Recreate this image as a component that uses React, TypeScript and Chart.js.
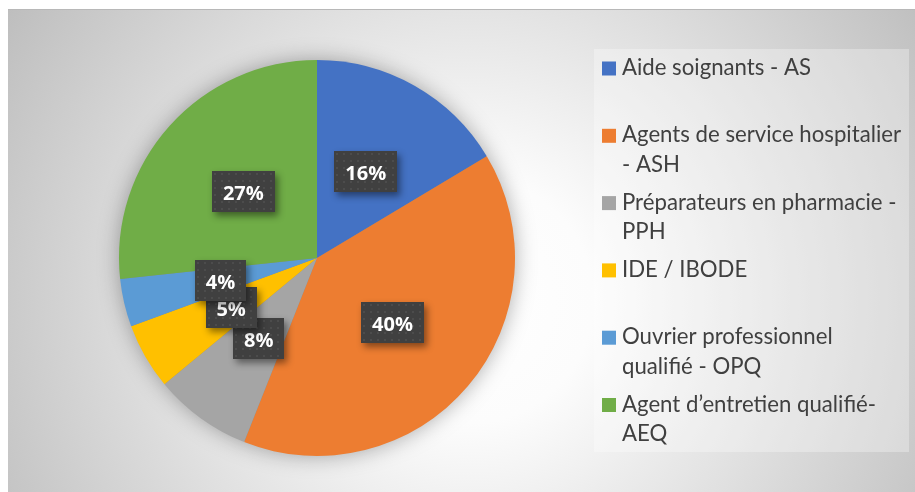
import React, { useEffect, useRef } from "react";
import { Chart, registerables } from "chart.js";

Chart.register(...registerables);

const categories = [
  "Aide soignants - AS",
  "Agents de service hospitalier - ASH",
  "Préparateurs en pharmacie - PPH",
  "IDE / IBODE",
  "Ouvrier professionnel qualifié - OPQ",
  "Agent d’entretien qualifié-AEQ",
];
const shares = [16.4, 39.6, 8.0, 5.4, 3.9, 26.7];
const sliceColors = ["#4472C4", "#ED7D31", "#A5A5A5", "#FFC000", "#5B9BD5", "#70AD47"];

const LEGEND_FONT = "Lato, 'Open Sans', sans-serif";
const LABEL_SIZE = 20;
const LABEL_FONT = `bold ${LABEL_SIZE}px 'Open Sans', sans-serif`;

function wrapText(ctx: CanvasRenderingContext2D, text: string, maxW: number): string[] {
  const tokens = text.split(/(?<=[ \-])/);
  const lines: string[] = [];
  let cur = "";
  for (const t of tokens) {
    const test = cur + t;
    if (cur.trim() !== "" && ctx.measureText(test.trimEnd()).width > maxW) {
      lines.push(cur.trim());
      cur = t.trimStart();
    } else {
      cur = test;
    }
  }
  if (cur.trim() !== "") lines.push(cur.trim());
  return lines;
}

const backgroundPlugin = {
  id: "bgFrame",
  beforeDraw(chart: any) {
    const { ctx, width, height } = chart;
    ctx.save();
    ctx.fillStyle = "#ffffff";
    ctx.fillRect(0, 0, width, height);
    const fx = 8, fy = 9, fw = width - 8, fh = height - 9;
    const g = ctx.createRadialGradient(470, 300, 0, 470, 300, 560);
    g.addColorStop(0, "#ffffff");
    g.addColorStop(0.22, "#fcfcfc");
    g.addColorStop(1, "#bcbcbc");
    ctx.fillStyle = g;
    ctx.fillRect(fx, fy, fw, fh);
    ctx.fillStyle = "#b8b8b8";
    ctx.fillRect(fx, fy, fw, 1);
    ctx.fillStyle = "rgba(255,255,255,0.3)";
    ctx.fillRect(594, 49, 315, 403);
    ctx.restore();
  },
};

const pieShadowPlugin = {
  id: "pieShadow",
  beforeDatasetsDraw(chart: any) {
    const arc = chart.getDatasetMeta(0).data[0];
    if (!arc) return;
    const { x, y, outerRadius } = arc.getProps(["x", "y", "outerRadius"], true);
    const ctx = chart.ctx;
    ctx.save();
    ctx.shadowColor = "rgba(0,0,0,0.35)";
    ctx.shadowBlur = 22;
    ctx.fillStyle = "#888";
    ctx.beginPath();
    ctx.arc(x, y, outerRadius - 1, 0, Math.PI * 2);
    ctx.fill();
    ctx.restore();
  },
};

const dataLabelPlugin = {
  id: "boxLabels",
  afterDatasetsDraw(chart: any) {
    const ctx = chart.ctx;
    const meta = chart.getDatasetMeta(0);
    const values: number[] = chart.data.datasets[0].data;
    const total = values.reduce((a, b) => a + b, 0);
    ctx.save();
    ctx.font = LABEL_FONT;
    for (let i = 0; i < meta.data.length; i++) {
      const arc = meta.data[i];
      const { x, y, startAngle, endAngle, outerRadius } = arc.getProps(
        ["x", "y", "startAngle", "endAngle", "outerRadius"],
        true
      );
      const mid = (startAngle + endAngle) / 2;
      const cx = x + Math.cos(mid) * outerRadius * 0.5;
      const cy = y + Math.sin(mid) * outerRadius * 0.5;
      const text = Math.round((values[i] / total) * 100) + "%";
      const tw = ctx.measureText(text).width;
      const bw = Math.round(tw + 22);
      const bh = 41;
      const bx = Math.round(cx - bw / 2);
      const by = Math.round(cy - bh / 2);
      ctx.save();
      ctx.shadowColor = "rgba(0,0,0,0.45)";
      ctx.shadowBlur = 7;
      ctx.shadowOffsetX = 3;
      ctx.shadowOffsetY = 4;
      ctx.fillStyle = "#404040";
      ctx.fillRect(bx, by, bw, bh);
      ctx.restore();
      ctx.save();
      ctx.beginPath();
      ctx.rect(bx, by, bw, bh);
      ctx.clip();
      ctx.fillStyle = "rgba(255,255,255,0.08)";
      for (let py = by + 3; py < by + bh; py += 7) {
        for (let px = bx + 3; px < bx + bw; px += 7) {
          ctx.beginPath();
          ctx.arc(px, py, 1.1, 0, Math.PI * 2);
          ctx.fill();
        }
      }
      ctx.restore();
      ctx.fillStyle = "#ffffff";
      ctx.textAlign = "center";
      ctx.textBaseline = "alphabetic";
      ctx.fillText(text, cx, by + bh / 2 + LABEL_SIZE * 0.357 + 1.8);
    }
    ctx.restore();
  },
};

const legendPlugin = {
  id: "sideLegend",
  afterDraw(chart: any) {
    const ctx = chart.ctx;
    const labels: string[] = chart.data.labels;
    const colors: string[] = chart.data.datasets[0].backgroundColor;
    ctx.save();
    ctx.font = `20px ${LEGEND_FONT}`;
    const ref = ctx.measureText("Agents de service hospitalier").width;
    const size = (20 * 279) / ref;
    ctx.font = `${size.toFixed(2)}px ${LEGEND_FONT}`;
    ctx.textAlign = "left";
    ctx.textBaseline = "alphabetic";
    const firstBaseline = 75;
    const step = 67.3;
    const lineH = 29.5;
    labels.forEach((lab, i) => {
      const base = firstBaseline + i * step;
      ctx.fillStyle = colors[i];
      ctx.fillRect(602, base - 13.5, 14, 14);
      ctx.fillStyle = "#404040";
      const lines = wrapText(ctx, lab, 283);
      lines.forEach((ln, j) => ctx.fillText(ln, 622, base + j * lineH));
    });
    ctx.restore();
  },
};

export default function App() {
  const ref = useRef<HTMLCanvasElement | null>(null);
  useEffect(() => {
    if (!ref.current) return;
    const chart = new Chart(ref.current, {
      type: "pie",
      data: {
        labels: categories,
        datasets: [
          {
            data: shares,
            backgroundColor: sliceColors,
            borderWidth: 0,
          },
        ],
      },
      options: {
        responsive: false,
        animation: false,
        layout: { padding: { left: 119, right: 400, top: 60, bottom: 36 } },
        plugins: {
          legend: { display: false },
          tooltip: { enabled: false },
          title: { display: false },
        },
      },
      plugins: [backgroundPlugin, pieShadowPlugin, dataLabelPlugin, legendPlugin],
    });
    return () => chart.destroy();
  }, []);
  return (
    <div style={{ position: "fixed", left: 0, top: 0, width: 915, height: 492 }}>
      <canvas ref={ref} width={915} height={492} style={{ display: "block" }} />
    </div>
  );
}
